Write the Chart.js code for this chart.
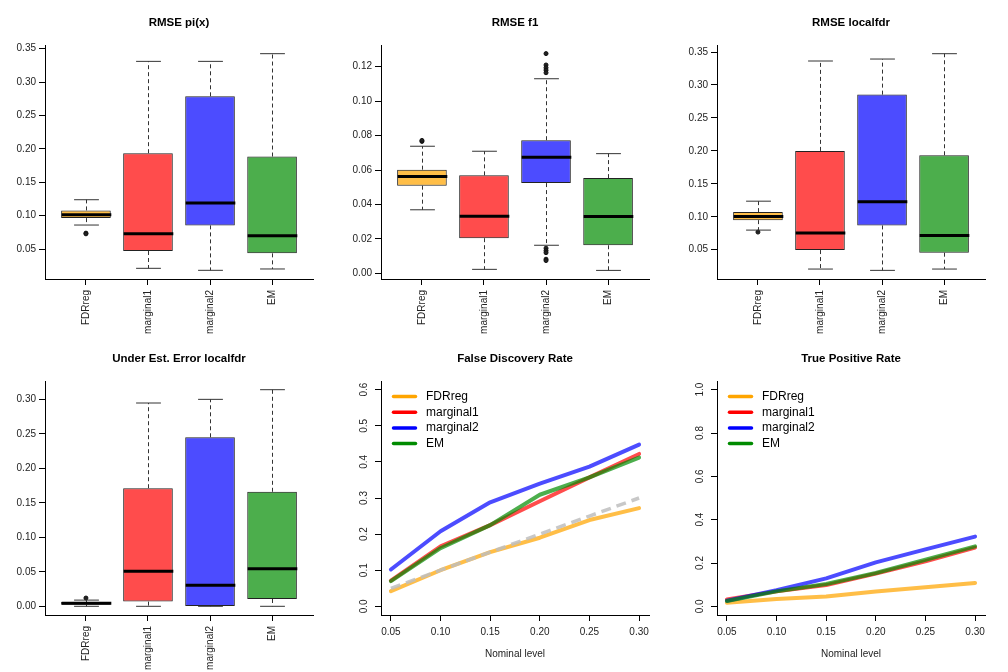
<!DOCTYPE html>
<html>
<head>
<meta charset="utf-8">
<title>Simulation results</title>
<script src="https://cdn.jsdelivr.net/npm/chart.js@4.4.1/dist/chart.umd.min.js"></script>
<style>
  body { margin: 0; background: #fff; }
  #grid {
    display: grid;
    grid-template-columns: 336px 336px 336px;
    grid-template-rows: 336px 336px;
    width: 1008px;
    height: 672px;
  }
  canvas { display: block; }
</style>
</head>
<body>
<div id="grid">
  <canvas id="rmsePi" width="336" height="336"></canvas>
  <canvas id="rmseF1" width="336" height="336"></canvas>
  <canvas id="rmseLfdr" width="336" height="336"></canvas>
  <canvas id="underEst" width="336" height="336"></canvas>
  <canvas id="fdr" width="336" height="336"></canvas>
  <canvas id="tpr" width="336" height="336"></canvas>
</div>
<script>
// methods compared
const methods = ["FDRreg", "marginal1", "marginal2", "EM"];

// box stats per method: [lower whisker, Q1, median, Q3, upper whisker]
const rmsePiStats = [
  [0.0859, 0.0963, 0.1013, 0.1078, 0.1238],
  [0.0211, 0.0470, 0.0729, 0.1935, 0.3310],
  [0.0181, 0.0854, 0.1188, 0.2787, 0.3310],
  [0.0201, 0.0435, 0.0699, 0.1885, 0.3425],
];
const rmsePiOutliers = [[0.0738, 0.0727], [], [], []];

const rmseF1Stats = [
  [0.0369, 0.0509, 0.0563, 0.0602, 0.0738],
  [0.0023, 0.0204, 0.0332, 0.0569, 0.0709],
  [0.0163, 0.0524, 0.0674, 0.0773, 0.1130],
  [0.0017, 0.0163, 0.0330, 0.0553, 0.0695],
];
const rmseF1Outliers = [
  [0.0766, 0.0772],
  [],
  [0.1276, 0.1210, 0.1194, 0.1180, 0.1165, 0.0146, 0.0132, 0.0120, 0.0082, 0.0074],
  [],
];

const rmseLfdrStats = [
  [0.0798, 0.0949, 0.1005, 0.1071, 0.1237],
  [0.0207, 0.0495, 0.0753, 0.2000, 0.3364],
  [0.0187, 0.0869, 0.1227, 0.2854, 0.3394],
  [0.0207, 0.0455, 0.0717, 0.1934, 0.3475],
];
const rmseLfdrOutliers = [[0.0768], [], [], []];

const underEstStats = [
  [0.0000, 0.0024, 0.0043, 0.0063, 0.0090],
  [0.0000, 0.0068, 0.0507, 0.1712, 0.2947],
  [0.0000, 0.0005, 0.0304, 0.2450, 0.3000],
  [0.0000, 0.0106, 0.0545, 0.1660, 0.3140],
];
const underEstOutliers = [[0.0120], [], [], []];

// y tick labels of the box panels
const piTicks = [0.05, 0.10, 0.15, 0.20, 0.25, 0.30, 0.35];
const f1Ticks = [0.00, 0.02, 0.04, 0.06, 0.08, 0.10, 0.12];
const underTicks = [0.00, 0.05, 0.10, 0.15, 0.20, 0.25, 0.30];

// line panels
const nominal = [0.05, 0.10, 0.15, 0.20, 0.25, 0.30];
const nominalLine = [0.05, 0.10, 0.15, 0.20, 0.25, 0.30];
const fdrFDRreg = [0.042, 0.100, 0.150, 0.190, 0.239, 0.272];
const fdrMarginal1 = [0.071, 0.166, 0.225, 0.291, 0.357, 0.422];
const fdrMarginal2 = [0.102, 0.208, 0.288, 0.340, 0.387, 0.448];
const fdrEM = [0.070, 0.161, 0.225, 0.309, 0.357, 0.412];
const tprFDRreg = [0.017, 0.034, 0.045, 0.068, 0.088, 0.108];
const tprMarginal1 = [0.032, 0.069, 0.098, 0.151, 0.208, 0.271];
const tprMarginal2 = [0.026, 0.074, 0.129, 0.203, 0.263, 0.322];
const tprEM = [0.025, 0.069, 0.103, 0.154, 0.215, 0.277];
const fdrTicks = [0.0, 0.1, 0.2, 0.3, 0.4, 0.5, 0.6];
const tprTicks = [0.0, 0.2, 0.4, 0.6, 0.8, 1.0];

// colours
const fillColors = ["rgba(255,165,0,0.72)", "rgba(255,0,0,0.7)", "rgba(0,0,255,0.7)", "rgba(0,139,0,0.7)"];
const legendColors = ["#FFA500", "#FF0000", "#0000FF", "#008B00"];

Chart.defaults.font.family = "'Liberation Sans', Arial, Helvetica, sans-serif";
Chart.defaults.color = "#222";

const titleFont = { size: 11.5, weight: "bold" };
const titleOpts = (text) => ({
  display: true,
  text: text,
  fullSize: false,
  color: "#000",
  font: titleFont,
  padding: { top: 16.4, bottom: 14.8 },
});

const axisGrid = { drawOnChartArea: false, drawTicks: true, tickLength: 6, color: "#000", offset: false };
const axisBorder = { display: true, color: "#000", width: 1 };

// whiskers, caps and medians on top of the floating bars
const boxWhiskers = {
  id: "boxWhiskers",
  afterDatasetsDraw(chart, args, opts) {
    if (!opts.stats) return;
    const { ctx } = chart;
    const y = chart.scales.y;
    const bars = chart.getDatasetMeta(0).data;
    ctx.save();
    opts.stats.forEach((s, i) => {
      const bar = bars[i];
      const cx = Math.round(bar.x) + 0.5;
      const half = bar.width / 2;
      const lo = y.getPixelForValue(s[0]);
      const q1 = y.getPixelForValue(s[1]);
      const med = y.getPixelForValue(s[2]);
      const q3 = y.getPixelForValue(s[3]);
      const hi = y.getPixelForValue(s[4]);

      ctx.strokeStyle = "#333";
      ctx.lineWidth = 1;
      ctx.setLineDash([4, 3]);
      ctx.beginPath();
      ctx.moveTo(cx, q1);
      ctx.lineTo(cx, lo);
      ctx.moveTo(cx, q3);
      ctx.lineTo(cx, hi);
      ctx.stroke();

      ctx.setLineDash([]);
      ctx.beginPath();
      ctx.moveTo(cx - half / 2, lo);
      ctx.lineTo(cx + half / 2, lo);
      ctx.moveTo(cx - half / 2, hi);
      ctx.lineTo(cx + half / 2, hi);
      ctx.stroke();

      ctx.strokeStyle = "#000";
      ctx.lineWidth = 3;
      ctx.beginPath();
      ctx.moveTo(cx - half, med);
      ctx.lineTo(cx + half, med);
      ctx.stroke();
    });
    ctx.restore();
  },
};

// legend inside the plot region, R style
const lineLegend = {
  id: "lineLegend",
  afterDraw(chart, args, opts) {
    if (!opts.labels) return;
    const { ctx, chartArea } = chart;
    ctx.save();
    ctx.font = "12px 'Liberation Sans', Arial, Helvetica, sans-serif";
    ctx.textBaseline = "middle";
    opts.labels.forEach((lab, i) => {
      const yy = chartArea.top + 15.5 + i * 15.7;
      ctx.strokeStyle = opts.colors[i];
      ctx.lineWidth = 3.5;
      ctx.lineCap = "round";
      ctx.beginPath();
      ctx.moveTo(chartArea.left + 12.5, yy);
      ctx.lineTo(chartArea.left + 34.5, yy);
      ctx.stroke();
      ctx.fillStyle = "#000";
      ctx.fillText(lab, chartArea.left + 45, yy);
    });
    ctx.restore();
  },
};

function makeBox(id, title, stats, outliers, yMin, yMax, yTicks) {
  const ctx = document.getElementById(id).getContext("2d");
  const outPoints = [];
  outliers.forEach((vals, i) => vals.forEach((v) => outPoints.push({ x: i + 1, y: v })));

  new Chart(ctx, {
    type: "bar",
    data: {
      datasets: [
        {
          type: "bar",
          data: stats.map((s, i) => ({ x: i + 1, y: [s[1], s[3]] })),
          backgroundColor: fillColors,
          borderColor: "#222",
          borderWidth: 1,
          borderSkipped: false,
          categoryPercentage: 1,
          barPercentage: 0.8,
        },
        {
          type: "scatter",
          data: outPoints,
          pointRadius: 2,
          pointBackgroundColor: "#222",
          pointBorderColor: "#111",
          pointBorderWidth: 1,
        },
      ],
    },
    options: {
      responsive: false,
      animation: false,
      events: [],
      layout: { padding: { left: 0, right: 23, top: 0, bottom: 0 } },
      plugins: {
        legend: { display: false },
        tooltip: { enabled: false },
        title: titleOpts(title),
        boxWhiskers: { stats: stats },
      },
      scales: {
        x: {
          type: "linear",
          min: 0.34,
          max: 4.66,
          offset: false,
          afterBuildTicks: (s) => { s.ticks = methods.map((m, i) => ({ value: i + 1 })); },
          afterFit: (s) => { s.height = 57; },
          ticks: {
            autoSkip: false,
            minRotation: 90,
            maxRotation: 90,
            padding: 5,
            font: { size: 10 },
            callback: (v) => methods[v - 1],
          },
          grid: axisGrid,
          border: axisBorder,
        },
        y: {
          min: yMin,
          max: yMax,
          afterBuildTicks: (s) => { s.ticks = yTicks.map((v) => ({ value: v })); },
          afterFit: (s) => { s.width = 45; },
          ticks: {
            padding: 3,
            font: { size: 10 },
            callback: (v) => v.toFixed(2),
          },
          grid: axisGrid,
          border: axisBorder,
        },
      },
    },
    plugins: [boxWhiskers],
  });
}

function makeLines(id, title, series, refLine, yMin, yMax, yTicks) {
  const ctx = document.getElementById(id).getContext("2d");
  const datasets = series.map((vals, i) => ({
    label: methods[i],
    data: nominal.map((x, j) => ({ x: x, y: vals[j] })),
    borderColor: fillColors[i],
    borderWidth: 4,
    borderCapStyle: "round",
    borderJoinStyle: "round",
    pointRadius: 0,
    tension: 0,
    order: series.length - i,
  }));
  if (refLine) {
    datasets.push({
      label: "nominal",
      data: nominal.map((x, j) => ({ x: x, y: refLine[j] })),
      borderColor: "rgba(190,190,190,0.85)",
      borderWidth: 3.5,
      borderDash: [10, 6],
      pointRadius: 0,
      tension: 0,
      order: 0,
    });
  }

  new Chart(ctx, {
    type: "line",
    data: { datasets: datasets },
    options: {
      responsive: false,
      animation: false,
      events: [],
      layout: { padding: { left: 0, right: 23, top: 0, bottom: 0 } },
      plugins: {
        legend: { display: false },
        tooltip: { enabled: false },
        title: titleOpts(title),
        lineLegend: { labels: methods, colors: legendColors },
      },
      scales: {
        x: {
          type: "linear",
          min: 0.04,
          max: 0.31,
          afterBuildTicks: (s) => { s.ticks = nominal.map((v) => ({ value: v })); },
          afterFit: (s) => { s.height = 57; },
          title: {
            display: true,
            text: "Nominal level",
            color: "#222",
            font: { size: 10 },
            padding: { top: 0, bottom: 12 },
          },
          ticks: {
            autoSkip: false,
            maxRotation: 0,
            padding: 5,
            font: { size: 10 },
            callback: (v) => v.toFixed(2),
          },
          grid: axisGrid,
          border: axisBorder,
        },
        y: {
          min: yMin,
          max: yMax,
          afterBuildTicks: (s) => { s.ticks = yTicks.map((v) => ({ value: v })); },
          afterFit: (s) => { s.width = 45; },
          ticks: {
            minRotation: 90,
            maxRotation: 90,
            crossAlign: "center",
            padding: 4,
            font: { size: 10 },
            callback: (v) => v.toFixed(1),
          },
          grid: axisGrid,
          border: axisBorder,
        },
      },
    },
    plugins: [lineLegend],
  });
}

makeBox("rmsePi", "RMSE pi(x)", rmsePiStats, rmsePiOutliers, 0.0051, 0.3555, piTicks);
makeBox("rmseF1", "RMSE f1", rmseF1Stats, rmseF1Outliers, -0.0033, 0.1326, f1Ticks);
makeBox("rmseLfdr", "RMSE localfdr", rmseLfdrStats, rmseLfdrOutliers, 0.0056, 0.3607, piTicks);
makeBox("underEst", "Under Est. Error localfdr", underEstStats, underEstOutliers, -0.0126, 0.3266, underTicks);
makeLines("fdr", "False Discovery Rate",
  [fdrFDRreg, fdrMarginal1, fdrMarginal2, fdrEM], nominalLine, -0.024, 0.624, fdrTicks);
makeLines("tpr", "True Positive Rate",
  [tprFDRreg, tprMarginal1, tprMarginal2, tprEM], null, -0.04, 1.04, tprTicks);
</script>
</body>
</html>
